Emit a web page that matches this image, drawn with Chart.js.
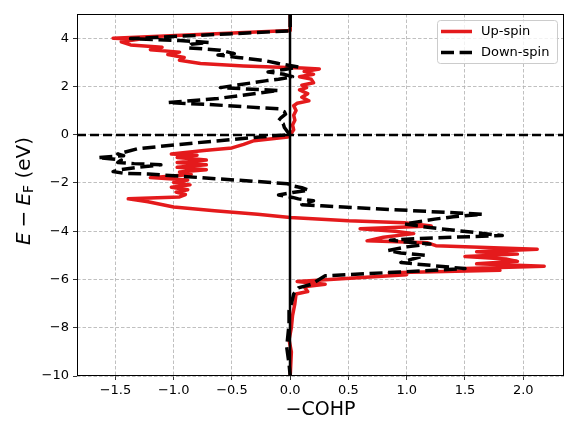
<!DOCTYPE html>
<html>
<head>
<meta charset="utf-8">
<script src="https://cdn.jsdelivr.net/npm/chart.js@4.4.1/dist/chart.umd.min.js"></script>
<style>
  html, body { margin: 0; padding: 0; background: #fff; }
  #cohp { display: block; }
</style>
</head>
<body>
<canvas id="cohp" width="566" height="423"></canvas>
<script>
// COHP curves: energy (eV, relative to E_F) and -COHP
const upEnergy = [5.0, 4.5, 4.32, 4.0, 3.95, 3.85, 3.72, 3.62, 3.52, 3.42, 3.32, 3.2, 3.08, 2.95, 2.85, 2.76, 2.72,
  2.62, 2.5, 2.4, 2.3, 2.15, 2.05, 1.95, 1.85, 1.7, 1.55, 1.4, 1.3, 1.2, 1.0, 0.8, 0.6, 0.4, 0.2, 0.0,
  -0.1, -0.25, -0.4, -0.55, -0.66, -0.8, -0.85, -0.95, -1.05, -1.15, -1.25, -1.35, -1.45, -1.55, -1.65,
  -1.78, -1.88, -1.98, -2.08, -2.18, -2.28, -2.38, -2.48, -2.58, -2.66, -2.78, -3.0, -3.15, -3.3, -3.43,
  -3.57, -3.65, -3.78, -3.9, -4.0, -4.1, -4.25, -4.4, -4.48, -4.6, -4.75, -4.85, -4.95, -5.05, -5.15,
  -5.25, -5.35, -5.45, -5.55, -5.62, -5.72, -5.8, -6.08, -6.2, -6.3, -6.5, -6.6, -7.0, -7.5, -8.0,
  -8.5, -9.0, -10.0];
const upCohp = [0.0, 0.0, 0.0, -1.52, -1.3, -1.45, -1.37, -1.1, -1.2, -0.95, -1.05, -0.91, -0.95, -0.77, -0.4, 0.1, 0.25,
  0.12, 0.2, 0.08, 0.18, 0.2, 0.1, 0.14, 0.08, 0.15, 0.1, 0.16, 0.06, 0.03, 0.05, 0.03, 0.04, 0.02, 0.03, 0.0,
  -0.02, -0.31, -0.4, -0.5, -0.74, -1.02, -0.8, -0.97, -0.72, -0.97, -0.72, -0.97, -0.72, -0.95, -0.85,
  -1.2, -0.88, -1.0, -0.86, -1.02, -0.88, -0.98, -0.9, -0.95, -1.39, -1.22, -1.0, -0.65, -0.28, 0.0,
  0.5, 0.98, 1.21, 0.6, 0.9, 1.06, 0.8, 0.66, 1.18, 1.25, 2.12, 1.6, 1.95, 1.5, 1.85,
  1.95, 1.6, 2.18, 1.5, 1.8, 0.85, 1.0, 0.06, 0.3, 0.12, 0.15, 0.05, 0.04, 0.02, 0.01,
  -0.01, 0.01, 0.0];

const downEnergy = [5.0, 4.3, 3.98, 3.9, 3.82, 3.75, 3.6, 3.5, 3.36, 3.3, 3.2, 3.07, 2.95, 2.8, 2.7, 2.6, 2.5,
  2.4, 2.3, 2.24, 1.95, 1.83, 1.5, 1.33, 1.25, 1.07, 0.95, 0.85, 0.7, 0.58, 0.45, 0.3, 0.1, 0.0,
  -0.05, -0.33, -0.58, -0.8, -0.87, -0.95, -1.05, -1.15, -1.2, -1.25, -1.35, -1.45, -1.53, -1.6, -1.63,
  -2.03, -2.1, -2.2, -2.3, -2.4, -2.5, -2.6, -2.66, -2.74, -2.8, -2.9, -2.95, -3.3, -3.4, -3.5, -3.7,
  -3.85, -4.18, -4.3, -4.37, -4.45, -4.53, -4.65, -4.8, -4.9, -5.0, -5.15, -5.3, -5.55, -5.85, -6.2,
  -6.35, -6.6, -7.0, -7.3, -7.85, -8.8, -9.5, -10.0];
const downCohp = [0.0, 0.0, -1.37, -0.95, -0.7, -0.85, -0.88, -0.6, -0.48, -0.62, -0.45, -0.22, -0.1, 0.07, -0.05, -0.19, -0.05,
  0.02, -0.1, -0.2, -0.6, -0.1, -0.62, -1.05, -0.7, -0.1, -0.05, -0.04, -0.08, -0.1, -0.06, -0.05, -0.02, 0.0,
  -0.15, -0.79, -1.31, -1.48, -1.43, -1.65, -1.45, -1.48, -1.34, -1.11, -1.3, -1.45, -1.52, -1.43, -1.22,
  -0.02, 0.0, 0.1, 0.16, 0.02, -0.1, 0.02, 0.07, 0.2, 0.15, 0.1, 0.27, 1.65, 1.4, 1.24, 0.98,
  1.2, 1.82, 1.1, 0.86, 1.0, 1.2, 1.0, 0.84, 0.95, 1.16, 1.05, 0.95, 1.5, 0.3, 0.18,
  0.07, 0.03, 0.01, -0.01, -0.01, -0.03, -0.01, 0.0];

const xTickValues = [-1.5, -1.0, -0.5, 0.0, 0.5, 1.0, 1.5, 2.0];
const yTickValues = [-10, -8, -6, -4, -2, 0, 2, 4];
const xLimits = [-1.83, 2.35];
const yLimits = [-10, 5];

const FONT = "'DejaVu Sans', Verdana, sans-serif";
const UP_RED = "#e41a1c";
const minus = (s) => s.replace("-", "\u2212");

function toPoints(energy, cohp) {
  return energy.map((e, i) => ({ x: cohp[i], y: e }));
}

// matplotlib-like frame, zero lines, legend and math y label
const framePlugin = {
  id: "frame",
  afterDatasetsDraw(chart) {
    const { ctx, chartArea, scales } = chart;
    const x0 = Math.round(scales.x.getPixelForValue(0));
    const y0 = Math.round(scales.y.getPixelForValue(0));
    ctx.save();
    ctx.beginPath();
    ctx.rect(chartArea.left, chartArea.top, chartArea.width, chartArea.height);
    ctx.clip();
    ctx.strokeStyle = "#000";
    ctx.lineWidth = 2.5;
    ctx.beginPath();
    ctx.moveTo(x0, chartArea.top);
    ctx.lineTo(x0, chartArea.bottom);
    ctx.stroke();
    ctx.setLineDash([9, 4]);
    ctx.beginPath();
    ctx.moveTo(chartArea.left, y0);
    ctx.lineTo(chartArea.right, y0);
    ctx.stroke();
    ctx.restore();

    ctx.save();
    ctx.strokeStyle = "#000";
    ctx.lineWidth = 1;
    ctx.strokeRect(chartArea.left + 0.5, chartArea.top + 0.5, chartArea.width - 1, chartArea.height - 1);
    ctx.restore();
  },
};

const legendPlugin = {
  id: "mplLegend",
  afterDraw(chart) {
    const { ctx, chartArea } = chart;
    const w = 120, h = 43;
    const bx = chartArea.right - 127, by = chartArea.top + 6;
    ctx.save();
    ctx.beginPath();
    ctx.roundRect(bx + 0.5, by + 0.5, w, h, 3);
    ctx.fillStyle = "rgba(255,255,255,0.8)";
    ctx.fill();
    ctx.strokeStyle = "#cccccc";
    ctx.lineWidth = 1;
    ctx.stroke();

    chart.data.datasets.filter((d) => d.inLegend).forEach((d, i) => {
      const y = by + 11.5 + i * 21;
      ctx.strokeStyle = d.borderColor;
      ctx.lineWidth = d.borderWidth;
      ctx.lineCap = "butt";
      ctx.setLineDash(d.borderDash || []);
      ctx.beginPath();
      ctx.moveTo(bx + 4, y);
      ctx.lineTo(bx + 35, y);
      ctx.stroke();
      ctx.setLineDash([]);
      ctx.fillStyle = "#000";
      ctx.font = `13px ${FONT}`;
      ctx.textBaseline = "middle";
      ctx.textAlign = "left";
      ctx.fillText(d.label, bx + 44, y);
    });
    ctx.restore();
  },
};

// y label "E − E_F (eV)": italic E, subscript F, spaced binary minus
const yTitlePlugin = {
  id: "yTitle",
  afterDraw(chart) {
    const { ctx, chartArea } = chart;
    const parts = [
      { t: "E", f: `italic 20px ${FONT}`, dy: 0, pad: 0 },
      { t: "\u2212", f: `20px ${FONT}`, dy: 0, pad: 5 },
      { t: "E", f: `italic 20px ${FONT}`, dy: 0, pad: 0 },
      { t: "F", f: `14px ${FONT}`, dy: 4, pad: 0 },
      { t: " (eV)", f: `20px ${FONT}`, dy: 0, pad: 0 },
    ];
    ctx.save();
    let total = 0;
    parts.forEach((p) => {
      ctx.font = p.f;
      p.w = ctx.measureText(p.t).width + p.pad * 2;
      total += p.w;
    });
    ctx.translate(25, (chartArea.top + chartArea.bottom) / 2 - 4);
    ctx.rotate(-Math.PI / 2);
    ctx.fillStyle = "#000";
    ctx.textBaseline = "middle";
    ctx.textAlign = "left";
    let x = -total / 2;
    parts.forEach((p) => {
      ctx.font = p.f;
      ctx.fillText(p.t, x + p.pad, p.dy);
      x += p.w;
    });
    ctx.restore();
  },
};

const tickFont = { family: FONT, size: 13 };
const gridOpts = { color: "#b0b0b0", lineWidth: 0.8, tickLength: 4, tickColor: "#000", tickWidth: 0.8, tickBorderDash: [] };

new Chart(document.getElementById("cohp"), {
  type: "scatter",
  data: {
    datasets: [
      {
        label: "Up-spin",
        inLegend: true,
        data: toPoints(upEnergy, upCohp),
        showLine: true,
        borderColor: UP_RED,
        backgroundColor: UP_RED,
        borderWidth: 3.5,
        borderJoinStyle: "round",
        pointRadius: 0,
        tension: 0,
        order: 2,
      },
      {
        label: "Down-spin",
        inLegend: true,
        data: toPoints(downEnergy, downCohp),
        showLine: true,
        borderColor: "#000",
        backgroundColor: "#000",
        borderWidth: 3.5,
        borderDash: [13, 5.6],
        borderJoinStyle: "round",
        pointRadius: 0,
        tension: 0,
        order: 1,
      },
    ],
  },
  options: {
    responsive: false,
    animation: false,
    devicePixelRatio: 1,
    layout: { padding: { top: 14, right: 2, left: 0, bottom: 0 } },
    plugins: { legend: { display: false }, tooltip: { enabled: false } },
    scales: {
      x: {
        type: "linear",
        position: "bottom",
        min: xLimits[0],
        max: xLimits[1],
        afterBuildTicks: (s) => { s.ticks = xTickValues.map((value) => ({ value })); },
        afterFit: (s) => { s.height = 47; },
        ticks: { font: tickFont, color: "#000", padding: 3, maxRotation: 0, autoSkip: false, callback: (v) => minus(v.toFixed(1)) },
        grid: gridOpts,
        border: { display: false, dash: [3.5, 2] },
        title: { display: true, text: "\u2212COHP", color: "#000", font: { family: FONT, size: 19 }, padding: { top: 0, bottom: 2 } },
      },
      y: {
        type: "linear",
        position: "left",
        min: yLimits[0],
        max: yLimits[1],
        afterBuildTicks: (s) => { s.ticks = yTickValues.map((value) => ({ value })); },
        afterFit: (s) => { s.width = 77; },
        ticks: { font: tickFont, color: "#000", padding: 4, autoSkip: false, callback: (v) => minus(String(v)) },
        grid: gridOpts,
        border: { display: false, dash: [3.5, 2] },
      },
    },
  },
  plugins: [framePlugin, legendPlugin, yTitlePlugin],
});
</script>
</body>
</html>
